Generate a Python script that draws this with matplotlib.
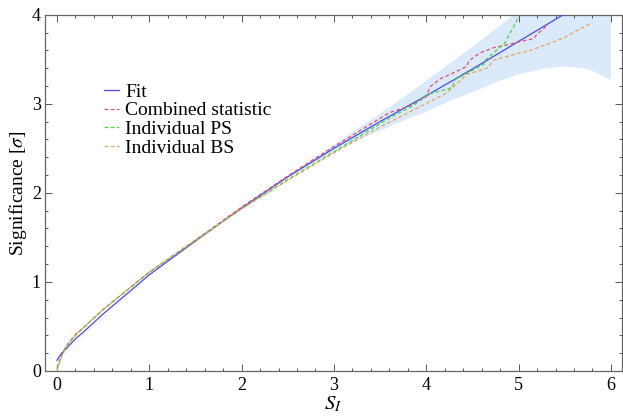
import matplotlib
matplotlib.use("Agg")
import matplotlib.pyplot as plt
from matplotlib.ticker import MultipleLocator

plt.rcParams['font.family'] = ['Liberation Serif', 'DejaVu Serif']
plt.rcParams['mathtext.fontset'] = 'stix'

# Fit curve
fit_x = [0, 0.05, 0.1, 0.2, 0.3, 0.5, 0.75, 1.0, 1.5, 2.0, 2.5, 3.0, 3.5, 4.0, 4.5, 5.0, 5.5, 5.6]
fit_y = [0.12, 0.20, 0.25, 0.36, 0.45, 0.64, 0.86, 1.08, 1.46, 1.83, 2.18, 2.50, 2.80, 3.09, 3.39, 3.70, 4.01, 4.07]

# Uncertainty band
band_x = [0, 1, 2, 2.5, 3.0, 3.25, 3.5, 3.75, 4.0, 4.25, 4.5, 4.75, 5.0, 5.25, 5.5, 5.75, 6.0]
band_lo = [0.117, 1.075, 1.822, 2.165, 2.46, 2.59, 2.70, 2.81, 2.91, 3.03, 3.13, 3.24, 3.33, 3.39, 3.42, 3.39, 3.27]
band_hi = [0.123, 1.085, 1.838, 2.195, 2.54, 2.72, 2.89, 3.07, 3.26, 3.45, 3.64, 3.84, 4.04, 4.25, 4.45, 4.68, 4.90]

# Combined statistic
comb_x = [0, 0.05, 0.1, 0.2, 0.3, 0.5, 0.75, 1.0, 1.25, 1.5, 2.0, 2.5, 3.0, 3.3, 3.6, 3.86, 4.0, 4.04,
          4.15, 4.26, 4.44, 4.46, 4.58, 4.73, 4.87, 4.98, 5.16, 5.20, 5.32]
comb_y = [0.03, 0.18, 0.28, 0.41, 0.50, 0.69, 0.90, 1.11, 1.29, 1.47, 1.84, 2.19, 2.52, 2.71, 2.90, 2.99,
          3.08, 3.19, 3.28, 3.33, 3.42, 3.48, 3.57, 3.63, 3.66, 3.69, 3.73, 3.78, 3.89]

# Individual PS
ps_x = [0, 0.05, 0.1, 0.2, 0.3, 0.5, 0.75, 1.0, 1.25, 1.5, 2.0, 2.5, 3.0, 3.3, 3.6, 3.86, 4.0, 4.28,
        4.31, 4.47, 4.62, 4.64, 4.75, 4.85, 4.89, 4.97, 5.0]
ps_y = [0.02, 0.17, 0.27, 0.40, 0.50, 0.69, 0.90, 1.11, 1.29, 1.47, 1.82, 2.15, 2.46, 2.65, 2.84, 2.98,
        3.10, 3.18, 3.27, 3.36, 3.44, 3.49, 3.59, 3.68, 3.76, 3.91, 3.98]

# Individual BS
bs_x = [0, 0.05, 0.1, 0.2, 0.3, 0.5, 0.75, 1.0, 1.5, 2.0, 2.5, 3.0, 3.5, 3.86, 4.22, 4.44, 4.66, 4.73,
        4.94, 5.16, 5.49, 5.63, 5.80]
bs_y = [0.0, 0.16, 0.27, 0.40, 0.50, 0.69, 0.90, 1.11, 1.47, 1.82, 2.14, 2.45, 2.74, 2.93, 3.12, 3.33,
        3.40, 3.49, 3.55, 3.61, 3.74, 3.82, 3.91]

fig = plt.figure(figsize=(6.23, 4.2), dpi=100)
ax = fig.add_axes([0.0722, 0.1167, 0.9262, 0.8483])

ax.fill_between(band_x, band_lo, band_hi, color='#dbeafa', lw=0, zorder=1)
dash = (0, (3, 2))
ax.plot(fit_x, fit_y, color='#4a4ae0', lw=0.9, label='Fit', zorder=3)
ax.plot(comb_x, comb_y, color='#e0506a', lw=0.9, ls=dash, label='Combined statistic', zorder=4)
ax.plot(ps_x, ps_y, color='#40d840', lw=0.9, ls=dash, label='Individual PS', zorder=4)
ax.plot(bs_x, bs_y, color='#e8a060', lw=0.9, ls=dash, label='Individual BS', zorder=4)

ax.set_xlim(-0.13, 6.12)
ax.set_ylim(0, 4)
ax.xaxis.set_major_locator(MultipleLocator(1))
ax.xaxis.set_minor_locator(MultipleLocator(0.2))
ax.yaxis.set_major_locator(MultipleLocator(1))
ax.yaxis.set_minor_locator(MultipleLocator(0.2))
ax.tick_params(which='both', direction='in', top=True, right=True, color='#555555',
               labelsize=13, width=0.7)
ax.tick_params(which='major', length=5)
ax.tick_params(which='minor', length=2.5)
ax.tick_params(axis='x', pad=4)
ax.tick_params(axis='y', pad=3)
for s in ax.spines.values():
    s.set_color('#666666')
    s.set_linewidth(0.9)

ax.set_xlabel('$S_I$', fontsize=15, labelpad=1)
ax.set_ylabel(r'Significance [$\sigma$]', fontsize=14, labelpad=2)

leg = ax.legend(loc='upper left', bbox_to_anchor=(0.085, 0.835), frameon=False,
                fontsize=14, handlelength=0.8, handletextpad=0.3, labelspacing=0.05,
                borderpad=0)

fig.savefig('out.png', dpi=100)
